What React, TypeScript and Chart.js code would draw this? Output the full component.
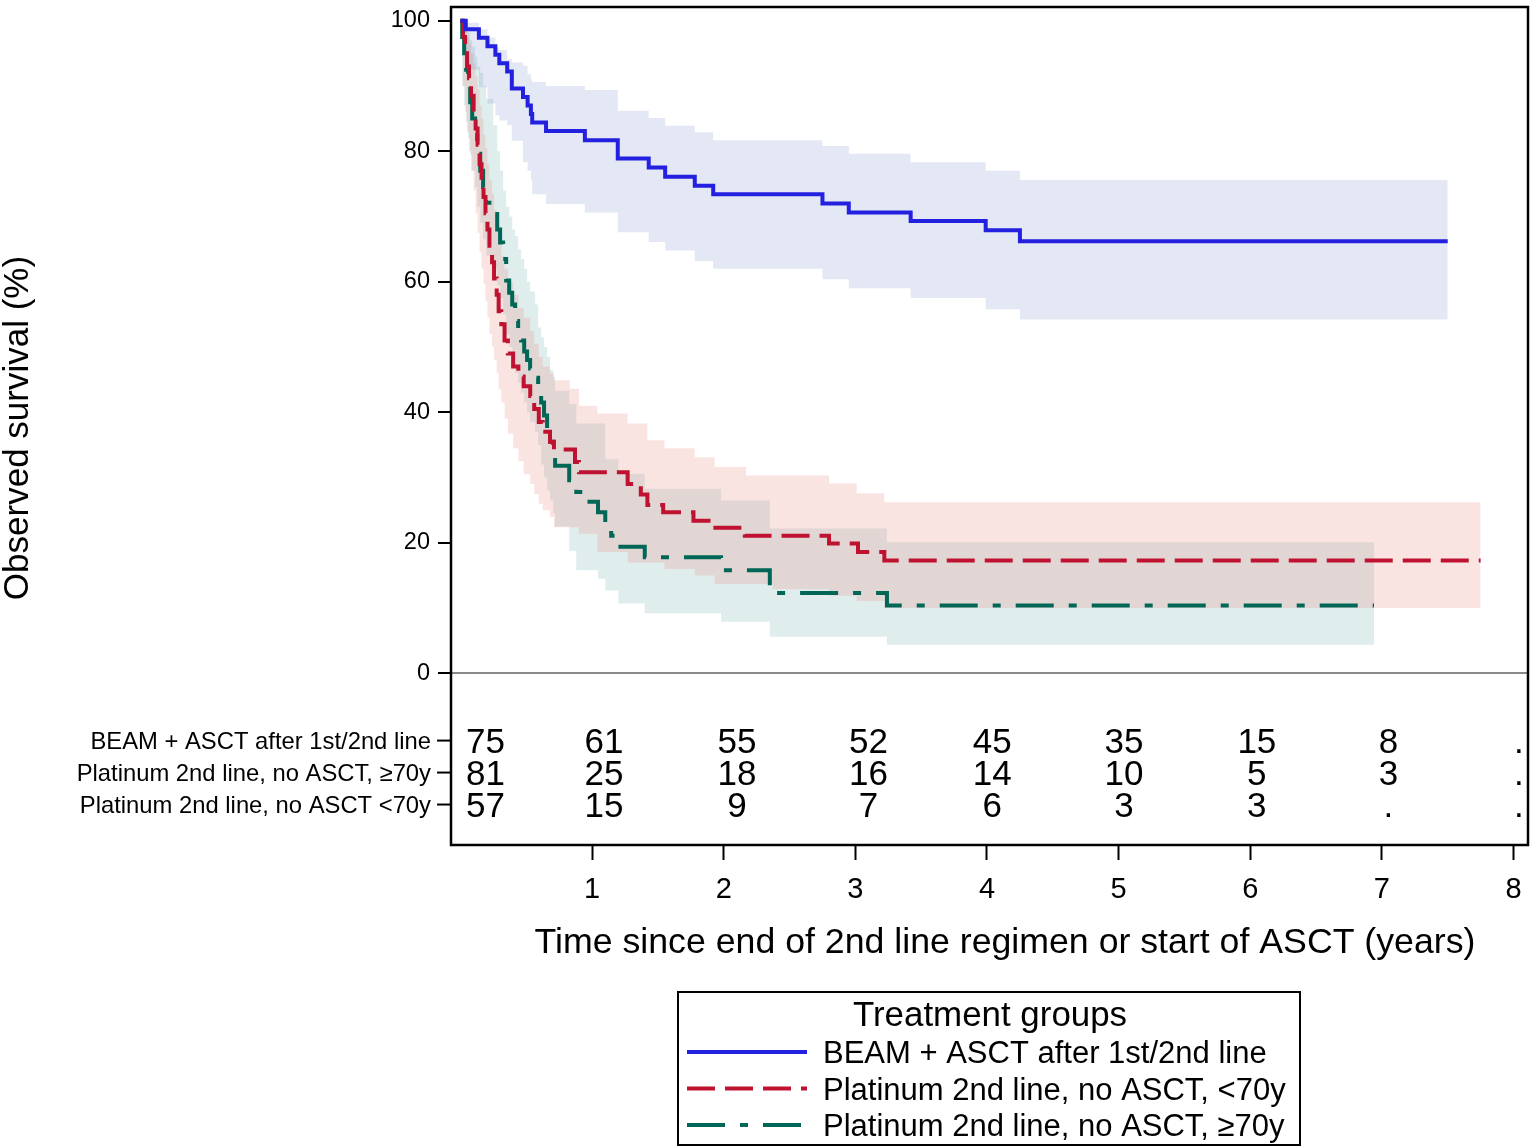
import { useEffect, useRef } from "react";
import { Chart, registerables } from "chart.js";

Chart.register(...registerables);

const FONT = '"Liberation Sans", Arial, Helvetica, sans-serif';

// legend names, in legend order
const groupNames = [
  "BEAM + ASCT after 1st/2nd line",
  "Platinum 2nd line, no ASCT, <70y",
  "Platinum 2nd line, no ASCT, ≥70y",
];

// BEAM + ASCT: KM steps (years, %) with 95% CI at the same times
const beamTime = [0, 0.04, 0.14, 0.205, 0.265, 0.295, 0.355, 0.39, 0.475, 0.51, 0.535, 0.545, 0.65, 0.945, 1.195, 1.43, 1.555, 1.78, 1.92, 2.75, 2.95, 3.42, 3.99, 4.25, 7.5];
const beamSurv = [100, 98.7, 97.4, 96.1, 94.8, 93.5, 92.2, 89.6, 88.3, 87.0, 85.7, 84.4, 83.1, 81.7, 78.9, 77.5, 76.1, 74.7, 73.4, 72.0, 70.6, 69.3, 67.9, 66.2, 66.2];
const beamLow = [100, 92.5, 89.8, 87.3, 85.5, 84.7, 84.0, 81.6, 78.3, 77.0, 75.5, 73.4, 71.9, 70.6, 67.6, 66.1, 64.8, 63.2, 62.0, 60.4, 59.0, 57.5, 55.8, 54.2, 54.2];
const beamHigh = [100, 99.7, 98.7, 97.4, 95.9, 95.5, 94.1, 93.6, 93.1, 91.8, 91.0, 90.6, 90.0, 89.4, 86.2, 85.1, 83.9, 82.9, 81.7, 80.8, 79.6, 78.3, 77.0, 75.6, 75.6];

// Platinum, <70y (red dashed)
const youngTime = [0, 0.02, 0.035, 0.05, 0.065, 0.08, 0.1, 0.115, 0.13, 0.145, 0.16, 0.175, 0.19, 0.205, 0.22, 0.24, 0.255, 0.275, 0.29, 0.31, 0.335, 0.36, 0.4, 0.44, 0.48, 0.53, 0.56, 0.595, 0.625, 0.68, 0.71, 0.87, 0.9, 1.27, 1.37, 1.42, 1.54, 1.77, 1.92, 2.16, 2.8, 3.02, 3.22, 7.75];
const youngSurv = [100, 97.5, 95, 93, 91.2, 88.5, 86, 83.5, 81, 78, 75.5, 73, 70.5, 68, 65.5, 63, 60.5, 58, 55.5, 53.5, 51, 49, 47, 45.5, 44, 42.5, 40.5, 38.5, 37, 35.5, 34.3, 32.4, 30.8, 29, 27.4, 25.8, 24.7, 23.4, 22.3, 21.1, 19.9, 18.6, 17.3, 17.3];
const youngBandTime = [0, 0.02, 0.035, 0.05, 0.065, 0.08, 0.1, 0.115, 0.13, 0.145, 0.16, 0.175, 0.19, 0.205, 0.22, 0.24, 0.255, 0.275, 0.29, 0.31, 0.335, 0.36, 0.4, 0.44, 0.48, 0.53, 0.56, 0.595, 0.625, 0.68, 0.71, 0.83, 0.9, 1.04, 1.27, 1.42, 1.55, 1.78, 1.93, 2.17, 2.37, 2.8, 3.01, 3.22, 7.75];
const youngLow = [100, 90, 86, 83, 80, 77, 74, 70.5, 67.5, 64.5, 62, 59.7, 57, 54.5, 52, 50, 48, 46, 43.5, 41.5, 39, 36.7, 34.5, 32.5, 30.5, 29, 27.5, 26, 25, 24, 22.4, 22.4, 21.4, 18.6, 17, 17, 16, 15, 13.7, 13.7, 12.9, 11.9, 11.1, 10, 10];
const youngHigh = [100, 99.5, 98.5, 97.5, 96.5, 95, 93.5, 91.5, 89.5, 87, 85, 82.5, 80.5, 78, 75.5, 73.5, 71, 68.5, 66, 64, 62, 60, 58, 56, 54.5, 52.5, 50.5, 48.5, 47, 46, 44.9, 43.6, 41, 39.8, 38.3, 35.7, 34.5, 33.1, 31.6, 30.3, 30.3, 29.1, 27.6, 26.2, 26.2];

// Platinum, >=70y (green dash-dot), CI at the same times
const oldTime = [0, 0.013, 0.028, 0.043, 0.058, 0.074, 0.089, 0.111, 0.127, 0.15, 0.172, 0.195, 0.248, 0.279, 0.301, 0.324, 0.347, 0.37, 0.393, 0.415, 0.438, 0.461, 0.484, 0.506, 0.529, 0.567, 0.59, 0.613, 0.635, 0.658, 0.681, 0.704, 0.719, 0.826, 0.88, 0.93, 1.045, 1.1, 1.145, 1.2, 1.4, 1.98, 2.35, 3.24, 6.94];
const oldSurv = [100, 97.5, 95, 92.5, 90, 87.5, 85, 82.5, 79.6, 77, 74.5, 72.1, 70.4, 68, 66, 63.5, 60.2, 58.3, 56.5, 54, 52.5, 51, 49.3, 48, 46.7, 45.3, 43.5, 41.5, 39.5, 37.5, 35.5, 34.2, 31.8, 29.6, 27.8, 26.3, 24.7, 23, 21.1, 19.4, 17.8, 15.8, 12.3, 10.4, 10.4];
const oldLow = [100, 90, 87, 84.5, 82, 79.5, 77, 74.5, 71.5, 69, 66.5, 64, 62, 59.5, 57.5, 55, 52, 50, 48, 46, 44.5, 43, 41.5, 40, 38.5, 37, 35, 32, 30, 28, 26.5, 24.5, 22.5, 18.8, 15.8, 15.8, 14.5, 12.7, 12.7, 10.7, 9.2, 7.9, 5.6, 4.4, 4.4];
const oldHigh = [100, 99.8, 99.5, 99, 98.2, 97, 96, 94.5, 93, 92, 90, 88, 84, 80, 77, 74, 71.5, 70, 68, 67, 65, 63.5, 62, 60, 58.5, 56.5, 53, 51.5, 50, 48.5, 46.5, 45.4, 43.3, 41.3, 38.3, 38.3, 38.3, 32.8, 32.8, 30.6, 28.3, 26.5, 22.2, 20.1, 20.1];

const xTicks = [1, 2, 3, 4, 5, 6, 7, 8];
const yTicks = [0, 20, 40, 60, 80, 100];

// number at risk
const riskLabels = [
  "BEAM + ASCT after 1st/2nd line",
  "Platinum 2nd line, no ASCT, ≥70y",
  "Platinum 2nd line, no ASCT <70y",
];
const riskTimes = [0.19, 1.09, 2.1, 3.1, 4.04, 5.04, 6.05, 7.05, 8.04];
const riskBeam = ["75", "61", "55", "52", "45", "35", "15", "8", "."];
const riskOld = ["81", "25", "18", "16", "14", "10", "5", "3", "."];
const riskYoung = ["57", "15", "9", "7", "6", "3", "3", ".", "."];

const BLUE = "#2320e0";
const RED = "#be1230";
const GREEN = "#006656";
const DASH_RED = [28, 10];
const DASH_GREEN = [38, 15, 8, 15];

const pts = (t: number[], v: number[]) => t.map((x, i) => ({ x, y: v[i] }));

// "before": horizontal at the previous level, then drop at the event time
const band = (t: number[], v: number[], fill: any, bg: string) => ({
  data: pts(t, v),
  stepped: "before",
  borderColor: "rgba(0,0,0,0)",
  borderWidth: 0,
  pointRadius: 0,
  fill,
  backgroundColor: bg,
  order: 5,
});

const curve = (t: number[], v: number[], color: string, dash: number[]) => ({
  data: pts(t, v),
  stepped: "before",
  borderColor: color,
  borderWidth: 4,
  borderDash: dash,
  borderCapStyle: "butt",
  pointRadius: 0,
  fill: false,
  order: 0,
});

const noPad = (s: any) => {
  s.paddingTop = 0;
  s.paddingBottom = 0;
  s.paddingLeft = 0;
  s.paddingRight = 0;
};

const decorations = {
  id: "decorations",
  afterDraw(chart: any) {
    const { ctx, chartArea: a, scales } = chart;
    const xs = scales.x;
    const ys = scales.y;
    ctx.save();

    // frame
    ctx.strokeStyle = "#000";
    ctx.lineWidth = 2.5;
    ctx.setLineDash([]);
    ctx.strokeRect(a.left, a.top, a.right - a.left, a.bottom - a.top);

    // axis titles
    ctx.fillStyle = "#000";
    ctx.textAlign = "center";
    ctx.textBaseline = "alphabetic";
    ctx.font = `35.7px ${FONT}`;
    ctx.fillText("Time since end of 2nd line regimen or start of ASCT (years)", 1005, 953);
    ctx.font = `35px ${FONT}`;
    ctx.save();
    ctx.translate(28, 428);
    ctx.rotate(-Math.PI / 2);
    ctx.fillText("Observed survival (%)", 0, 0);
    ctx.restore();

    // number-at-risk table
    const rows = [riskBeam, riskOld, riskYoung];
    const rowVals = [-10.3, -15.2, -20.1];
    rows.forEach((row, r) => {
      const y = ys.getPixelForValue(rowVals[r]);
      ctx.strokeStyle = "#000";
      ctx.lineWidth = 2;
      ctx.beginPath();
      ctx.moveTo(a.left - 14, y);
      ctx.lineTo(a.left, y);
      ctx.stroke();
      ctx.font = `23.8px ${FONT}`;
      ctx.textAlign = "right";
      ctx.fillText(riskLabels[r], a.left - 20, y + 8.5);
      ctx.font = `35px ${FONT}`;
      ctx.textAlign = "center";
      row.forEach((n, i) => {
        ctx.fillText(n, xs.getPixelForValue(riskTimes[i]), y + 12.5);
      });
    });

    // legend
    const lx = 678, ly = 992, lw = 622, lh = 153;
    ctx.lineWidth = 2;
    ctx.strokeRect(lx, ly, lw, lh);
    ctx.font = `34.9px ${FONT}`;
    ctx.textAlign = "center";
    ctx.fillText("Treatment groups", 990, 1026);
    const colors = [BLUE, RED, GREEN];
    const dashes = [[], DASH_RED, DASH_GREEN];
    const rowY = [1052, 1088.5, 1125];
    groupNames.forEach((name, i) => {
      ctx.strokeStyle = colors[i];
      ctx.lineWidth = 4;
      ctx.setLineDash(dashes[i]);
      ctx.beginPath();
      ctx.moveTo(687, rowY[i]);
      ctx.lineTo(807, rowY[i]);
      ctx.stroke();
      ctx.setLineDash([]);
      ctx.font = `31px ${FONT}`;
      ctx.textAlign = "left";
      ctx.fillText(name, 823, rowY[i] + 11);
    });

    ctx.restore();
  },
};

export default function App() {
  const canvasRef = useRef<HTMLCanvasElement>(null);

  useEffect(() => {
    const chart = new Chart(canvasRef.current as HTMLCanvasElement, {
      type: "line",
      data: {
        datasets: [
          band(beamTime, beamLow, false, "rgba(0,0,0,0)"),
          band(beamTime, beamHigh, 0, "rgba(68,102,182,0.15)"),
          band(youngBandTime, youngLow, false, "rgba(0,0,0,0)"),
          band(youngBandTime, youngHigh, 2, "rgba(230,120,110,0.2)"),
          band(oldTime, oldLow, false, "rgba(0,0,0,0)"),
          band(oldTime, oldHigh, 4, "rgba(100,165,165,0.2)"),
          curve(beamTime, beamSurv, BLUE, []),
          curve(youngTime, youngSurv, RED, DASH_RED),
          curve(oldTime, oldSurv, GREEN, DASH_GREEN),
        ] as any,
      },
      options: {
        animation: false,
        responsive: true,
        maintainAspectRatio: false,
        events: [],
        layout: { padding: { top: 7, right: 7, left: 0, bottom: 0 } },
        plugins: {
          legend: { display: false },
          tooltip: { enabled: false },
        },
        scales: {
          x: {
            type: "linear",
            min: -0.072,
            max: 8.11,
            afterBuildTicks: (s: any) => {
              s.ticks = xTicks.map((v) => ({ value: v }));
            },
            afterFit: (s: any) => {
              s.height = 303;
              noPad(s);
            },
            border: { display: false },
            grid: {
              drawOnChartArea: false,
              drawTicks: true,
              tickLength: 15,
              tickColor: "#000",
              tickWidth: 2,
            },
            ticks: {
              color: "#000",
              font: { family: FONT, size: 29 },
              padding: 13,
              maxRotation: 0,
              autoSkip: false,
            },
          },
          y: {
            type: "linear",
            min: -26.3,
            max: 102.1,
            afterBuildTicks: (s: any) => {
              s.ticks = yTicks.map((v) => ({ value: v }));
            },
            afterFit: (s: any) => {
              s.width = 451;
              noPad(s);
            },
            border: { display: false },
            grid: {
              drawOnChartArea: true,
              color: (c: any) => (c.tick && c.tick.value === 0 ? "#8a8a8a" : "rgba(0,0,0,0)"),
              lineWidth: 2,
              tickLength: 13,
              tickColor: "#000",
              tickWidth: 2,
            },
            ticks: {
              color: "#000",
              font: { family: FONT, size: 23.5 },
              padding: 8,
            },
          },
        },
      },
      plugins: [decorations],
    });
    return () => {
      chart.destroy();
    };
  }, []);

  return (
    <div style={{ position: "fixed", left: 0, top: 0, width: 1535, height: 1148, background: "#fff" }}>
      <canvas ref={canvasRef} />
    </div>
  );
}
